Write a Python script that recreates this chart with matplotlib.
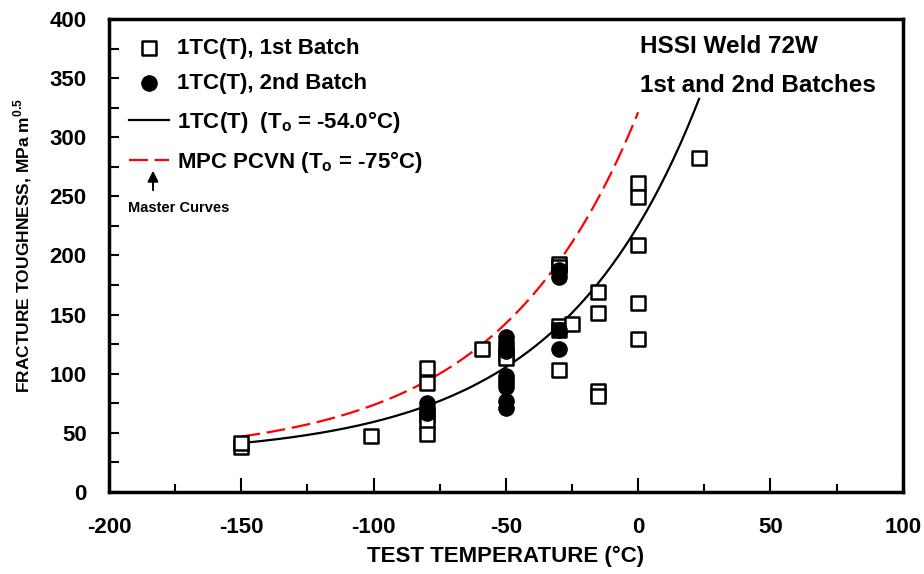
import numpy as np
import matplotlib.pyplot as plt
from matplotlib.ticker import MultipleLocator

plt.rcParams["font.family"] = ["Liberation Sans", "DejaVu Sans"]
plt.rcParams["font.weight"] = "bold"
plt.rcParams["axes.unicode_minus"] = False

# 1st batch, 1TC(T) specimens (open squares)
b1_temp = [-150, -150, -101, -80, -80, -80, -80, -80, -59, -50, -50,
           -30, -30, -30, -30, -30, -25, -15, -15, -15, -15,
           0, 0, 0, 0, 0, 23]
b1_kjc = [38, 41, 47, 105, 92, 65, 60, 49, 121, 117, 113,
          193, 190, 140, 137, 103, 142, 169, 151, 85, 81,
          261, 249, 209, 160, 129, 282]

# 2nd batch, 1TC(T) specimens (filled circles)
b2_temp = [-80, -80, -80, -50, -50, -50, -50, -50, -50, -50, -50, -50, -50,
           -30, -30, -30, -30]
b2_kjc = [75, 71, 67, 131, 127, 123, 119, 98, 95, 92, 89, 77, 71,
          188, 182, 137, 121]

# master curves: K = 30 + 70 exp(0.019 (T - To))
T0_1tct = -54.0
T0_pcvn = -75.0
mc_1tct_range = (-150, 23)
mc_pcvn_range = (-150, 0)


def master_curve(t, t0):
    return 30 + 70 * np.exp(0.019 * (t - t0))


fig = plt.figure(figsize=(9.24, 5.74), dpi=100)
ax = fig.add_axes([0.118, 0.143, 0.859, 0.824])

t1 = np.linspace(*mc_1tct_range, 200)
t2 = np.linspace(*mc_pcvn_range, 200)
ax.plot(t1, master_curve(t1, T0_1tct), color="black", lw=1.6,
        label="1TC(T)  (T$_\\mathregular{o}$ = -54.0°C)", zorder=2)
ax.plot(t2, master_curve(t2, T0_pcvn), color="red", lw=1.6,
        dashes=(8.5, 3), label="MPC PCVN (T$_\\mathregular{o}$ = -75°C)", zorder=2)

ax.scatter(b1_temp, b1_kjc, marker="s", s=110, facecolors="white",
           edgecolors="black", linewidths=1.8, zorder=3,
           label="1TC(T), 1st Batch")
ax.scatter(b2_temp, b2_kjc, marker="o", s=120, color="black", zorder=4,
           label="1TC(T), 2nd Batch")

ax.set_xlim(-200, 100)
ax.set_ylim(0, 400)
ax.xaxis.set_major_locator(MultipleLocator(50))
ax.xaxis.set_minor_locator(MultipleLocator(25))
ax.yaxis.set_major_locator(MultipleLocator(50))
ax.yaxis.set_minor_locator(MultipleLocator(25))
ax.tick_params(which="major", direction="in", length=10, width=1.5,
               labelsize=16)
ax.tick_params(which="minor", direction="in", length=6, width=1.5)
ax.tick_params(axis="x", which="major", pad=18)
ax.tick_params(axis="y", which="both", length=7, pad=16)
for lab in ax.get_xticklabels() + ax.get_yticklabels():
    lab.set_fontweight("bold")
for sp in ax.spines.values():
    sp.set_linewidth(2.5)

ax.set_xlabel("TEST TEMPERATURE (°C)", fontsize=16, fontweight="bold",
              va="top")
ax.xaxis.set_label_coords(0.5, -0.114)
ax.set_ylabel("FRACTURE TOUGHNESS, MPa m$^{\\mathregular{0.5}}$",
              fontsize=12.5, fontweight="bold")
ax.yaxis.set_label_coords(-0.095, 0.52)

handles, labels = ax.get_legend_handles_labels()
order = [2, 3, 0, 1]
leg = ax.legend([handles[i] for i in order], [labels[i] for i in order],
                loc="upper left", bbox_to_anchor=(0.0255, 0.96), frameon=False,
                fontsize=16, handlelength=1.8, handletextpad=0.35,
                labelspacing=0.65, borderaxespad=0.0, borderpad=0.0)
for txt in leg.get_texts():
    txt.set_fontweight("bold")

ax.text(0.669, 0.941, "HSSI Weld 72W", transform=ax.transAxes,
        fontsize=17.5, fontweight="bold", va="center")
ax.text(0.669, 0.860, "1st and 2nd Batches", transform=ax.transAxes,
        fontsize=17.5, fontweight="bold", va="center")

ax.annotate("", xy=(0.0554, 0.685), xytext=(0.0554, 0.632),
            xycoords="axes fraction",
            arrowprops=dict(arrowstyle="-|>", color="black", lw=1.4,
                            mutation_scale=16))
ax.text(0.024, 0.600, "Master Curves", transform=ax.transAxes,
        fontsize=10.5, fontweight="bold", ha="left", va="center")

fig.savefig("out.png", dpi=100)
